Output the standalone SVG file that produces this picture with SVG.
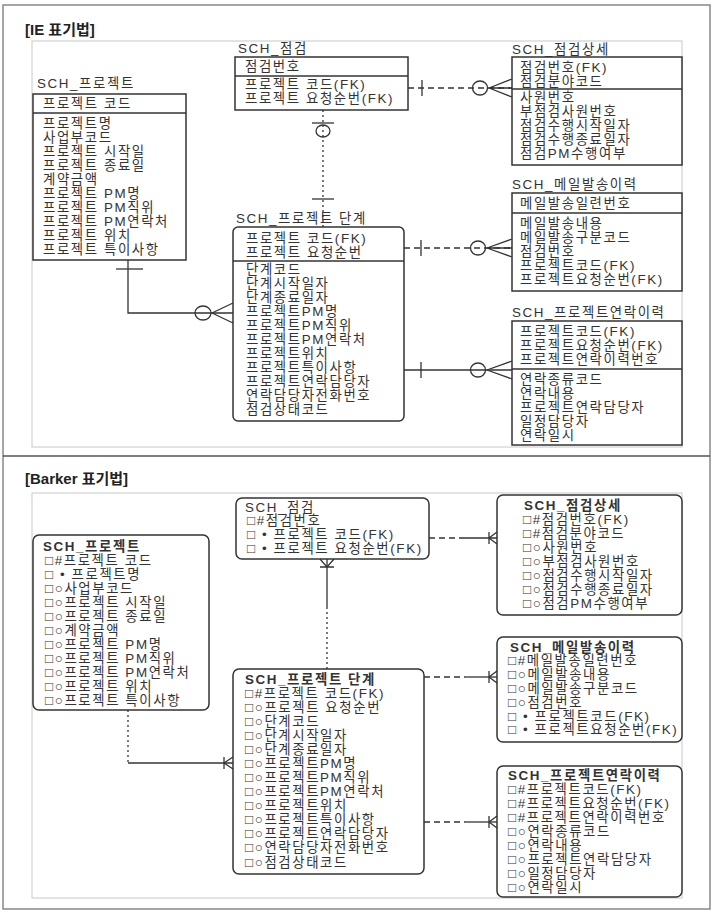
<svg xmlns="http://www.w3.org/2000/svg" width="715" height="915" viewBox="0 0 715 915">
<style>
.t{font-family:"Liberation Sans","Noto Sans CJK KR",sans-serif;font-size:13.4px;fill:#333;letter-spacing:1.6px}
.h{font-family:"Liberation Sans","Noto Sans CJK KR",sans-serif;font-size:15px;fill:#222;font-weight:bold}
.b{font-weight:bold}
.ent{fill:#fff;stroke:#333;stroke-width:1.5}
.div{stroke:#333;stroke-width:1.5}
.cn{stroke:#333;stroke-width:1.3;fill:none}
.dash{stroke-dasharray:6 4}
.dot{stroke-dasharray:2 3}
.frame{fill:none;stroke:#888;stroke-width:1.5}
.inner{fill:none;stroke:#c8c8c8;stroke-width:1}
</style>
<rect width="715" height="915" fill="#fff"/>
<g id="frames">
<rect class="frame" x="3" y="5" width="707" height="904"/>
<line x1="3" y1="456" x2="710" y2="456" stroke="#555" stroke-width="1.5"/>
<rect class="inner" x="32" y="41" width="650" height="406"/>
<rect class="inner" x="32" y="493" width="650" height="405"/>
<text class="h" x="25" y="35">[IE 표기법]</text>
<text class="h" x="25" y="484">[Barker 표기법]</text>
</g>

<g id="ie-project">
<text class="t" x="37" y="88">SCH_프로젝트</text>
<rect class="ent" x="33" y="94" width="153" height="166"/>
<line class="div" x1="33" y1="113" x2="186" y2="113"/>
<text class="t" x="43" y="108">프로젝트 코드</text>
<text class="t" x="43" y="127.5">
<tspan x="43" dy="0">프로젝트명</tspan>
<tspan x="43" dy="14.1">사업부코드</tspan>
<tspan x="43" dy="14.1">프로젝트 시작일</tspan>
<tspan x="43" dy="14.1">프로젝트 종료일</tspan>
<tspan x="43" dy="14.1">계약금액</tspan>
<tspan x="43" dy="14.1">프로젝트 PM명</tspan>
<tspan x="43" dy="14.1">프로젝트 PM직위</tspan>
<tspan x="43" dy="14.1">프로젝트 PM연락처</tspan>
<tspan x="43" dy="14.1">프로젝트 위치</tspan>
<tspan x="43" dy="14.1">프로젝트 특이사항</tspan>
</text>
</g>

<g id="ie-inspect">
<text class="t" x="238" y="53">SCH_점검</text>
<rect class="ent" x="235" y="57" width="173" height="53"/>
<line class="div" x1="235" y1="76" x2="408" y2="76"/>
<text class="t" x="245" y="71">점검번호</text>
<text class="t" x="245" y="89">프로젝트 코드(FK)</text>
<text class="t" x="245" y="103">프로젝트 요청순번(FK)</text>
</g>

<g id="ie-inspect-detail">
<text class="t" x="512" y="54">SCH_점검상세</text>
<rect class="ent" x="512" y="57" width="170" height="108"/>
<line class="div" x1="512" y1="89" x2="682" y2="89"/>
<text class="t" x="520" y="72">점검번호(FK)</text>
<text class="t" x="520" y="85.5">점검분야코드</text>
<text class="t" x="520" y="101.5">
<tspan x="520" dy="0">사원번호</tspan>
<tspan x="520" dy="14">부점검사원번호</tspan>
<tspan x="520" dy="14">점검수행시작일자</tspan>
<tspan x="520" dy="14">점검수행종료일자</tspan>
<tspan x="520" dy="14">점검PM수행여부</tspan>
</text>
</g>

<g id="ie-mail">
<text class="t" x="512" y="189">SCH_메일발송이력</text>
<rect class="ent" x="512" y="193" width="170" height="98"/>
<line class="div" x1="512" y1="213" x2="682" y2="213"/>
<text class="t" x="520" y="207.5">메일발송일련번호</text>
<text class="t" x="520" y="227.5">
<tspan x="520" dy="0">메일발송내용</tspan>
<tspan x="520" dy="14">메일발송구분코드</tspan>
<tspan x="520" dy="14">점검번호</tspan>
<tspan x="520" dy="14">프로젝트코드(FK)</tspan>
<tspan x="520" dy="14">프로젝트요청순번(FK)</tspan>
</text>
</g>

<g id="ie-contact">
<text class="t" x="512" y="317">SCH_프로젝트연락이력</text>
<rect class="ent" x="512" y="321" width="170" height="124"/>
<line class="div" x1="512" y1="369" x2="682" y2="369"/>
<text class="t" x="520" y="335.5">
<tspan x="520" dy="0">프로젝트코드(FK)</tspan>
<tspan x="520" dy="14">프로젝트요청순번(FK)</tspan>
<tspan x="520" dy="14">프로젝트연락이력번호</tspan>
</text>
<text class="t" x="520" y="383.5">
<tspan x="520" dy="0">연락종류코드</tspan>
<tspan x="520" dy="14">연락내용</tspan>
<tspan x="520" dy="14">프로젝트연락담당자</tspan>
<tspan x="520" dy="14">일정담당자</tspan>
<tspan x="520" dy="14">연락일시</tspan>
</text>
</g>

<g id="ie-stage">
<text class="t" x="236" y="223">SCH_프로젝트 단계</text>
<rect class="ent" x="233" y="227" width="171" height="194" rx="5"/>
<line class="div" x1="233" y1="261" x2="404" y2="261"/>
<text class="t" x="246" y="242.5">프로젝트 코드(FK)</text>
<text class="t" x="246" y="256.5">프로젝트 요청순번</text>
<text class="t" x="246" y="273.5">
<tspan x="246" dy="0">단계코드</tspan>
<tspan x="246" dy="14">단계시작일자</tspan>
<tspan x="246" dy="14">단계종료일자</tspan>
<tspan x="246" dy="14">프로젝트PM명</tspan>
<tspan x="246" dy="14">프로젝트PM직위</tspan>
<tspan x="246" dy="14">프로젝트PM연락처</tspan>
<tspan x="246" dy="14">프로젝트위치</tspan>
<tspan x="246" dy="14">프로젝트특이사항</tspan>
<tspan x="246" dy="14">프로젝트연락담당자</tspan>
<tspan x="246" dy="14">연락담당자전화번호</tspan>
<tspan x="246" dy="14">점검상태코드</tspan>
</text>
</g>

<g id="bk-project">
<rect class="ent" x="33" y="535" width="176" height="175" rx="6"/>
<text class="t" x="43" y="550.5">
<tspan x="43" dy="0" class="b">SCH_프로젝트</tspan>
<tspan x="45" dy="14">□#프로젝트 코드</tspan>
<tspan x="45" dy="14">□ • 프로젝트명</tspan>
<tspan x="45" dy="14">□○사업부코드</tspan>
<tspan x="45" dy="14">□○프로젝트 시작일</tspan>
<tspan x="45" dy="14">□○프로젝트 종료일</tspan>
<tspan x="45" dy="14">□○계약금액</tspan>
<tspan x="45" dy="14">□○프로젝트 PM명</tspan>
<tspan x="45" dy="14">□○프로젝트 PM직위</tspan>
<tspan x="45" dy="14">□○프로젝트 PM연락처</tspan>
<tspan x="45" dy="14">□○프로젝트 위치</tspan>
<tspan x="45" dy="14">□○프로젝트 특이사항</tspan>
</text>
</g>

<g id="bk-inspect">
<rect class="ent" x="236" y="498" width="193" height="61" rx="6"/>
<text class="t" x="245" y="511.5">
<tspan x="245" dy="0">SCH_점검</tspan>
<tspan x="247" dy="13.7">□#점검번호</tspan>
<tspan x="247" dy="13.7">□ • 프로젝트 코드(FK)</tspan>
<tspan x="247" dy="13.7">□ • 프로젝트 요청순번(FK)</tspan>
</text>
</g>

<g id="bk-inspect-detail">
<rect class="ent" x="497" y="495" width="185" height="120" rx="6"/>
<text class="t" x="524" y="509.5">
<tspan x="524" dy="0" class="b">SCH_점검상세</tspan>
<tspan x="523" dy="14">□#점검번호(FK)</tspan>
<tspan x="523" dy="14">□#점검분야코드</tspan>
<tspan x="523" dy="14">□○사원번호</tspan>
<tspan x="523" dy="14">□○부점검사원번호</tspan>
<tspan x="523" dy="14">□○점검수행시작일자</tspan>
<tspan x="523" dy="14">□○점검수행종료일자</tspan>
<tspan x="523" dy="14">□○점검PM수행여부</tspan>
</text>
</g>

<g id="bk-mail">
<rect class="ent" x="497" y="637" width="185" height="105" rx="6"/>
<text class="t" x="510" y="651.5">
<tspan x="510" dy="0" class="b">SCH_메일발송이력</tspan>
<tspan x="508" dy="13.8">□#메일발송일련번호</tspan>
<tspan x="508" dy="13.8">□○메일발송내용</tspan>
<tspan x="508" dy="13.8">□○메일발송구분코드</tspan>
<tspan x="508" dy="13.8">□○점검번호</tspan>
<tspan x="508" dy="13.8">□ • 프로젝트코드(FK)</tspan>
<tspan x="508" dy="13.8">□ • 프로젝트요청순번(FK)</tspan>
</text>
</g>

<g id="bk-contact">
<rect class="ent" x="497" y="766" width="185" height="131" rx="6"/>
<text class="t" x="508" y="779.5">
<tspan x="508" dy="0" class="b">SCH_프로젝트연락이력</tspan>
<tspan x="508" dy="14">□#프로젝트코드(FK)</tspan>
<tspan x="508" dy="14">□#프로젝트요청순번(FK)</tspan>
<tspan x="508" dy="14">□#프로젝트연락이력번호</tspan>
<tspan x="508" dy="14">□○연락종류코드</tspan>
<tspan x="508" dy="14">□○연락내용</tspan>
<tspan x="508" dy="14">□○프로젝트연락담당자</tspan>
<tspan x="508" dy="14">□○일정담당자</tspan>
<tspan x="508" dy="14">□○연락일시</tspan>
</text>
</g>

<g id="bk-stage">
<rect class="ent" x="233" y="669" width="191" height="205" rx="6"/>
<text class="t" x="245" y="683.5">
<tspan x="245" dy="0" class="b">SCH_프로젝트 단계</tspan>
<tspan x="245" dy="14.08">□#프로젝트 코드(FK)</tspan>
<tspan x="245" dy="14.08">□○프로젝트 요청순번</tspan>
<tspan x="245" dy="14.08">□○단계코드</tspan>
<tspan x="245" dy="14.08">□○단계시작일자</tspan>
<tspan x="245" dy="14.08">□○단계종료일자</tspan>
<tspan x="245" dy="14.08">□○프로젝트PM명</tspan>
<tspan x="245" dy="14.08">□○프로젝트PM직위</tspan>
<tspan x="245" dy="14.08">□○프로젝트PM연락처</tspan>
<tspan x="245" dy="14.08">□○프로젝트위치</tspan>
<tspan x="245" dy="14.08">□○프로젝트특이사항</tspan>
<tspan x="245" dy="14.08">□○프로젝트연락담당자</tspan>
<tspan x="245" dy="14.08">□○연락담당자전화번호</tspan>
<tspan x="245" dy="14.08">□○점검상태코드</tspan>
</text>
</g>

<g id="connectors">
<!-- IE: 점검 - 단계 -->
<line class="cn dot" x1="323" y1="110" x2="323" y2="227"/>
<line class="cn" x1="312" y1="123" x2="334" y2="123"/>
<ellipse class="cn" cx="323" cy="131" rx="7" ry="6" fill="#fff"/>
<line class="cn" x1="312" y1="199" x2="334" y2="199"/>
<!-- IE: 점검 - 점검상세 -->
<line class="cn dash" x1="408" y1="88" x2="512" y2="88"/>
<line class="cn" x1="422" y1="80" x2="422" y2="96"/>
<ellipse class="cn" cx="480" cy="88" rx="7.5" ry="7"/>
<path class="cn" d="M489 88 L512 79 M489 88 L512 97 M489 88 L512 88"/>
<!-- IE: 단계 - 메일 -->
<line class="cn dash" x1="404" y1="248" x2="512" y2="248"/>
<line class="cn" x1="421" y1="240" x2="421" y2="256"/>
<ellipse class="cn" cx="478" cy="248" rx="7.5" ry="7"/>
<path class="cn" d="M487 248 L512 239 M487 248 L512 257 M487 248 L512 248"/>
<!-- IE: 단계 - 연락이력 -->
<line class="cn" x1="404" y1="370" x2="512" y2="370"/>
<line class="cn" x1="421" y1="362" x2="421" y2="378"/>
<ellipse class="cn" cx="478" cy="370" rx="7.5" ry="7"/>
<path class="cn" d="M487 370 L512 361 M487 370 L512 379"/>
<!-- IE: 프로젝트 - 단계 -->
<path class="cn" d="M128 260 L128 313 L233 313"/>
<line class="cn" x1="116" y1="269" x2="143" y2="269"/>
<ellipse class="cn" cx="203" cy="313" rx="8" ry="7"/>
<path class="cn" d="M212 313 L233 303 M212 313 L233 323"/>
<!-- Barker: 점검 - 단계 -->
<line class="cn" x1="327" y1="559" x2="327" y2="607"/>
<line class="cn dot" x1="327" y1="607" x2="327" y2="669"/>
<path class="cn" d="M320 559 L327 567 L334 559 M320 567 L334 567"/>
<!-- Barker: 점검 - 점검상세 -->
<line class="cn dash" x1="429" y1="538" x2="463" y2="538"/>
<line class="cn" x1="463" y1="538" x2="497" y2="538"/>
<path class="cn" d="M489 532 L489 544 M489 538 L497 532 M489 538 L497 544"/>
<!-- Barker: 단계 - 메일 -->
<line class="cn dash" x1="424" y1="677" x2="465" y2="677"/>
<line class="cn" x1="465" y1="677" x2="497" y2="677"/>
<path class="cn" d="M489 671 L489 683 M489 677 L497 671 M489 677 L497 683"/>
<!-- Barker: 단계 - 연락이력 -->
<line class="cn dash" x1="424" y1="822" x2="465" y2="822"/>
<line class="cn" x1="465" y1="822" x2="497" y2="822"/>
<path class="cn" d="M489 816 L489 828 M489 822 L497 816 M489 822 L497 828"/>
<!-- Barker: 프로젝트 - 단계 -->
<line class="cn dot" x1="128" y1="710" x2="128" y2="763"/>
<line class="cn" x1="128" y1="763" x2="233" y2="763"/>
<path class="cn" d="M224 757 L224 769 M224 763 L233 757 M224 763 L233 769"/>
</g>
</svg>
